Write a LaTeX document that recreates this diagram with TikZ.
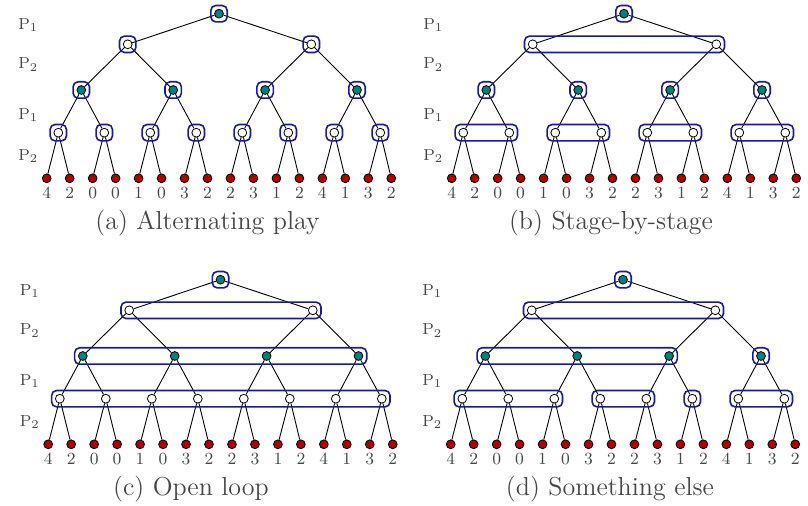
\documentclass[tikz,border=0pt]{standalone}
\usepackage{fontspec}
\usetikzlibrary{fit}
\definecolor{nodeteal}{RGB}{0,128,128}
\definecolor{leafred}{RGB}{176,0,0}
\definecolor{setblue}{RGB}{26,26,154}
\definecolor{txtgray}{RGB}{70,70,70}
\tikzset{
  p1node/.style={circle, draw=black, fill=nodeteal, line width=0.4pt, inner sep=0pt, minimum size=4.4pt},
  p2node/.style={circle, draw=black, fill=white, line width=0.4pt, inner sep=0pt, minimum size=4.4pt},
  leafnode/.style={circle, draw=black, fill=leafred, line width=0.4pt, inner sep=0pt, minimum size=4.4pt},
  treeedge/.style={draw=black, line width=0.45pt},
  infoset/.style={draw=setblue, line width=0.8pt, rounded corners=2.5pt, inner sep=1.7pt},
  payoff/.style={text=txtgray, font=\fontsize{8.5}{10}\selectfont, anchor=base, inner sep=0pt},
  plabel/.style={text=txtgray, font=\fontsize{8}{10}\selectfont, anchor=base west, inner sep=0pt},
  captext/.style={text=txtgray, font=\fontsize{13}{15}\selectfont, anchor=base, inner sep=0pt}
}
\newcommand\gametree[1]{%
  \node[p1node] (#1r) at (219,13.7) {};
  \node[p2node] (#1a0) at (127.7,44.3) {};
  \node[p2node] (#1a1) at (311.3,44.3) {};
  \foreach \i in {0,...,3} \node[p1node] (#1b\i) at ({81.3+91.9*\i},90) {};
  \foreach \i in {0,...,7} \node[p2node] (#1c\i) at ({58.3+46*\i},132.7) {};
  \foreach \i/\v in {0/4,1/2,2/0,3/0,4/1,5/0,6/3,7/2,8/2,9/3,10/1,11/2,12/4,13/1,14/3,15/2}{
    \node[leafnode] (#1d\i) at ({46.7+22.97*\i},178.3) {};
    \node[payoff] (#1v\i) at ({46.7+22.97*\i},199) {\v};
  }
  \draw[treeedge] (#1r) -- (#1a0);
  \draw[treeedge] (#1r) -- (#1a1);
  \foreach \i [evaluate=\i as \p using {int(floor(\i/2))}] in {0,...,3} \draw[treeedge] (#1a\p) -- (#1b\i);
  \foreach \i [evaluate=\i as \p using {int(floor(\i/2))}] in {0,...,7} \draw[treeedge] (#1b\p) -- (#1c\i);
  \foreach \i [evaluate=\i as \p using {int(floor(\i/2))}] in {0,...,15} \draw[treeedge] (#1c\p) -- (#1d\i);
  \node[plabel] (#1p1) at (18,29.3) {P$_1$};
  \node[plabel] (#1p2) at (18,69) {P$_2$};
  \node[plabel] (#1p3) at (18,119.3) {P$_1$};
  \node[plabel] (#1p4) at (18,160.7) {P$_2$};
}
\begin{document}
\begin{tikzpicture}[x=0.5pt,y=-0.5pt]
\useasboundingbox (0,0) rectangle (808,506);
% (a) Alternating play
\begin{scope}
  \gametree{A}
  \node[infoset, fit=(Ar)] (Ai0) {};
  \node[infoset, fit=(Aa0)] (Ai1) {};
  \node[infoset, fit=(Aa1)] (Ai2) {};
  \foreach \i in {0,...,3} \node[infoset, fit=(Ab\i)] (Aib\i) {};
  \foreach \i in {0,...,7} \node[infoset, fit=(Ac\i)] (Aic\i) {};
  \node[captext] (Acap) at (207.5,230) {(a) Alternating play};
\end{scope}
% (b) Stage-by-stage
\begin{scope}[shift={(405,0)}]
  \gametree{B}
  \node[infoset, fit=(Br)] (Bi0) {};
  \node[infoset, fit=(Ba0)(Ba1)] (Bi1) {};
  \foreach \i in {0,...,3} \node[infoset, fit=(Bb\i)] (Bib\i) {};
  \node[infoset, fit=(Bc0)(Bc1)] (Bic0) {};
  \node[infoset, fit=(Bc2)(Bc3)] (Bic1) {};
  \node[infoset, fit=(Bc4)(Bc5)] (Bic2) {};
  \node[infoset, fit=(Bc6)(Bc7)] (Bic3) {};
  \node[captext] (Bcap) at (206,230) {(b) Stage-by-stage};
\end{scope}
% (c) Open loop
\begin{scope}[shift={(1.5,266)}]
  \gametree{C}
  \node[infoset, fit=(Cr)] (Ci0) {};
  \node[infoset, fit=(Ca0)(Ca1)] (Ci1) {};
  \node[infoset, fit=(Cb0)(Cb3)] (Ci2) {};
  \node[infoset, fit=(Cc0)(Cc7)] (Ci3) {};
  \node[captext] (Ccap) at (189.5,230) {(c) Open loop};
\end{scope}
% (d) Something else
\begin{scope}[shift={(404,266)}]
  \gametree{D}
  \node[infoset, fit=(Dr)] (Di0) {};
  \node[infoset, fit=(Da0)(Da1)] (Di1) {};
  \node[infoset, fit=(Db0)(Db2)] (Dib0) {};
  \node[infoset, fit=(Db3)] (Dib1) {};
  \node[infoset, fit=(Dc0)(Dc2)] (Dic0) {};
  \node[infoset, fit=(Dc3)(Dc4)] (Dic1) {};
  \node[infoset, fit=(Dc5)] (Dic2) {};
  \node[infoset, fit=(Dc6)(Dc7)] (Dic3) {};
  \node[captext] (Dcap) at (206,230) {(d) Something else};
\end{scope}
\end{tikzpicture}
\end{document}
